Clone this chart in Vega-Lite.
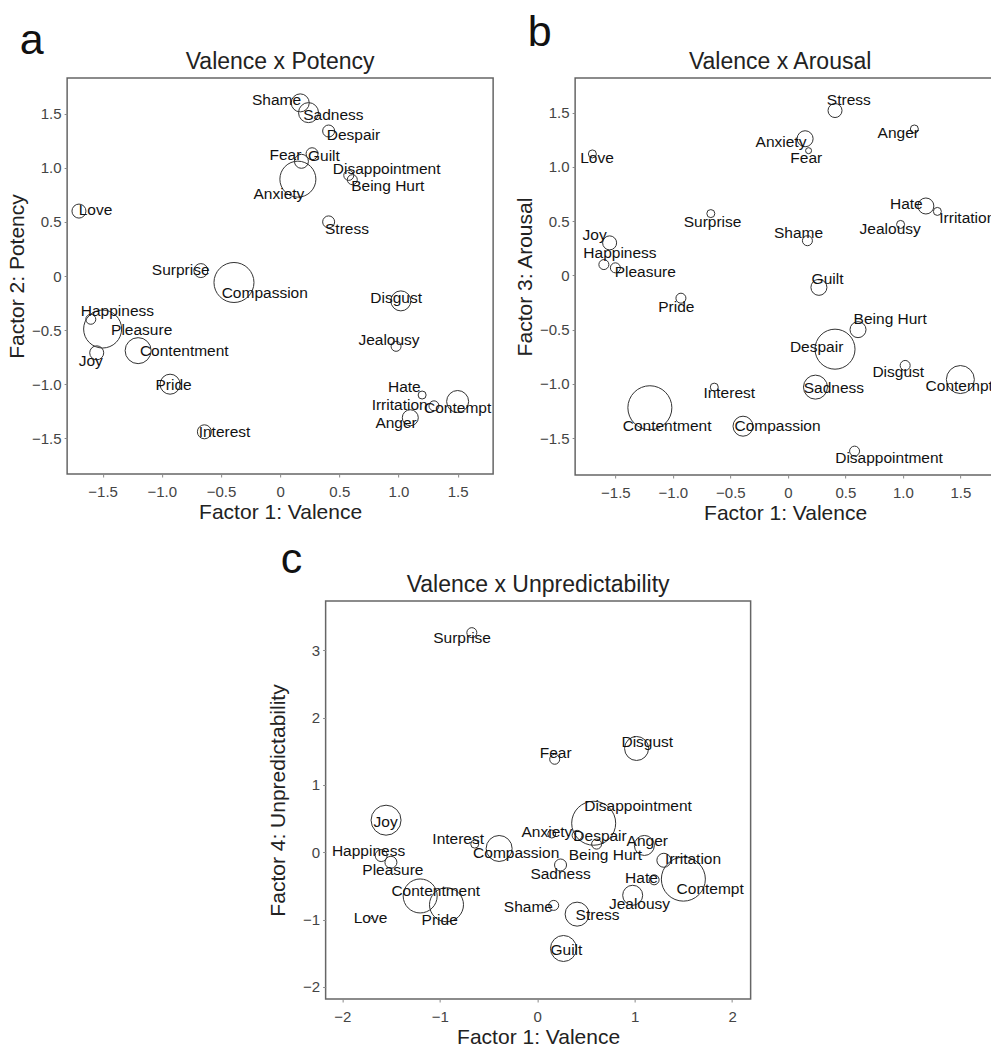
{
  "$schema": "https://vega.github.io/schema/vega-lite/v6.json",
  "background": "white",
  "padding": {"top": 12, "left": 5, "right": 5, "bottom": 5},
  "datasets": {
    "emo": [
      {"emotion": "Love", "valence": -1.7, "potency": 0.60, "arousal": 1.12, "unpred": -0.97, "wa": 0.35, "wb": 0.2, "wc": 0.05, "lxa": -1.56, "lya": 0.61, "lxb": -1.66, "lyb": 1.08, "lxc": -1.71, "lyc": -0.97},
      {"emotion": "Joy", "valence": -1.55, "potency": -0.71, "arousal": 0.30, "unpred": 0.475, "wa": 0.35, "wb": 0.35, "wc": 0.75, "lxa": -1.60, "lya": -0.79, "lxb": -1.68, "lyb": 0.37, "lxc": -1.555, "lyc": 0.45},
      {"emotion": "Happiness", "valence": -1.6, "potency": -0.40, "arousal": 0.10, "unpred": -0.05, "wa": 0.25, "wb": 0.25, "wc": 0.3, "lxa": -1.375, "lya": -0.32, "lxb": -1.46, "lyb": 0.21, "lxc": -1.73, "lyc": 0.02},
      {"emotion": "Pleasure", "valence": -1.5, "potency": -0.49, "arousal": 0.07, "unpred": -0.15, "wa": 0.95, "wb": 0.25, "wc": 0.3, "lxa": -1.17, "lya": -0.50, "lxb": -1.24, "lyb": 0.03, "lxc": -1.48, "lyc": -0.26},
      {"emotion": "Contentment", "valence": -1.2, "potency": -0.69, "arousal": -1.22, "unpred": -0.65, "wa": 0.65, "wb": 1.1, "wc": 0.85, "lxa": -0.81, "lya": -0.69, "lxb": -1.05, "lyb": -1.39, "lxc": -1.04, "lyc": -0.575},
      {"emotion": "Pride", "valence": -0.93, "potency": -1.0, "arousal": -0.21, "unpred": -0.78, "wa": 0.5, "wb": 0.25, "wc": 0.85, "lxa": -0.90, "lya": -1.01, "lxb": -0.97, "lyb": -0.295, "lxc": -1.0, "lyc": -1.01},
      {"emotion": "Interest", "valence": -0.64, "potency": -1.44, "arousal": -1.03, "unpred": 0.12, "wa": 0.35, "wb": 0.2, "wc": 0.2, "lxa": -0.47, "lya": -1.44, "lxb": -0.51, "lyb": -1.08, "lxc": -0.81, "lyc": 0.19},
      {"emotion": "Surprise", "valence": -0.67, "potency": 0.05, "arousal": 0.57, "unpred": 3.26, "wa": 0.35, "wb": 0.2, "wc": 0.25, "lxa": -0.84, "lya": 0.06, "lxb": -0.655, "lyb": 0.49, "lxc": -0.77, "lyc": 3.18},
      {"emotion": "Compassion", "valence": -0.39, "potency": -0.06, "arousal": -1.39, "unpred": 0.055, "wa": 1.0, "wb": 0.5, "wc": 0.65, "lxa": -0.13, "lya": -0.16, "lxb": -0.09, "lyb": -1.385, "lxc": -0.215, "lyc": -0.01},
      {"emotion": "Shame", "valence": 0.17, "potency": 1.60, "arousal": 0.32, "unpred": -0.79, "wa": 0.45, "wb": 0.25, "wc": 0.25, "lxa": -0.03, "lya": 1.63, "lxb": 0.093, "lyb": 0.39, "lxc": -0.09, "lyc": -0.82},
      {"emotion": "Sadness", "valence": 0.24, "potency": 1.51, "arousal": -1.03, "unpred": -0.19, "wa": 0.5, "wb": 0.6, "wc": 0.3, "lxa": 0.45, "lya": 1.49, "lxb": 0.40, "lyb": -1.04, "lxc": 0.24, "lyc": -0.32},
      {"emotion": "Despair", "valence": 0.41, "potency": 1.34, "arousal": -0.68, "unpred": 0.25, "wa": 0.3, "wb": 1.0, "wc": 0.25, "lxa": 0.62, "lya": 1.30, "lxb": 0.25, "lyb": -0.66, "lxc": 0.645, "lyc": 0.24},
      {"emotion": "Fear", "valence": 0.18, "potency": 1.06, "arousal": 1.15, "unpred": 1.38, "wa": 0.35, "wb": 0.15, "wc": 0.25, "lxa": 0.045, "lya": 1.12, "lxb": 0.16, "lyb": 1.08, "lxc": 0.19, "lyc": 1.48},
      {"emotion": "Guilt", "valence": 0.27, "potency": 1.13, "arousal": -0.11, "unpred": -1.43, "wa": 0.3, "wb": 0.4, "wc": 0.65, "lxa": 0.37, "lya": 1.11, "lxb": 0.345, "lyb": -0.03, "lxc": 0.30, "lyc": -1.45},
      {"emotion": "Disappointment", "valence": 0.58, "potency": 0.93, "arousal": -1.62, "unpred": 0.43, "wa": 0.25, "wb": 0.25, "wc": 1.1, "lxa": 0.90, "lya": 0.99, "lxb": 0.88, "lyb": -1.68, "lxc": 1.035, "lyc": 0.68},
      {"emotion": "Being Hurt", "valence": 0.61, "potency": 0.89, "arousal": -0.50, "unpred": 0.12, "wa": 0.25, "wb": 0.4, "wc": 0.25, "lxa": 0.91, "lya": 0.83, "lxb": 0.89, "lyb": -0.40, "lxc": 0.70, "lyc": -0.045},
      {"emotion": "Anxiety", "valence": 0.15, "potency": 0.895, "arousal": 1.26, "unpred": 0.27, "wa": 0.9, "wb": 0.4, "wc": 0.2, "lxa": -0.01, "lya": 0.76, "lxb": -0.06, "lyb": 1.23, "lxc": 0.10, "lyc": 0.30},
      {"emotion": "Stress", "valence": 0.41, "potency": 0.50, "arousal": 1.52, "unpred": -0.92, "wa": 0.3, "wb": 0.35, "wc": 0.6, "lxa": 0.565, "lya": 0.43, "lxb": 0.53, "lyb": 1.62, "lxc": 0.62, "lyc": -0.94},
      {"emotion": "Disgust", "valence": 1.02, "potency": -0.23, "arousal": -0.83, "unpred": 1.54, "wa": 0.5, "wb": 0.25, "wc": 0.6, "lxa": 0.98, "lya": -0.20, "lxb": 0.96, "lyb": -0.89, "lxc": 1.13, "lyc": 1.64},
      {"emotion": "Jealousy", "valence": 0.98, "potency": -0.65, "arousal": 0.47, "unpred": -0.64, "wa": 0.25, "wb": 0.2, "wc": 0.5, "lxa": 0.92, "lya": -0.59, "lxb": 0.89, "lyb": 0.43, "lxc": 1.05, "lyc": -0.77},
      {"emotion": "Hate", "valence": 1.2, "potency": -1.10, "arousal": 0.64, "unpred": -0.41, "wa": 0.2, "wb": 0.4, "wc": 0.25, "lxa": 1.05, "lya": -1.03, "lxb": 1.03, "lyb": 0.66, "lxc": 1.07, "lyc": -0.39},
      {"emotion": "Irritation", "valence": 1.3, "potency": -1.20, "arousal": 0.59, "unpred": -0.12, "wa": 0.25, "wb": 0.2, "wc": 0.35, "lxa": 1.01, "lya": -1.19, "lxb": 1.56, "lyb": 0.525, "lxc": 1.60, "lyc": -0.095},
      {"emotion": "Contempt", "valence": 1.5, "potency": -1.16, "arousal": -0.96, "unpred": -0.40, "wa": 0.55, "wb": 0.7, "wc": 1.1, "lxa": 1.50, "lya": -1.22, "lxb": 1.49, "lyb": -1.02, "lxc": 1.775, "lyc": -0.55},
      {"emotion": "Anger", "valence": 1.1, "potency": -1.31, "arousal": 1.35, "unpred": 0.10, "wa": 0.4, "wb": 0.2, "wc": 0.5, "lxa": 0.98, "lya": -1.36, "lxb": 0.96, "lyb": 1.31, "lxc": 1.13, "lyc": 0.17}
    ]
  },
  "vconcat": [
    {
      "hconcat": [
        {
          "title": {"text": "a", "anchor": "start", "fontSize": 43, "fontWeight": "normal", "color": "#111", "dx": 14, "offset": -13},
          "vconcat": [
            {
              "title": {"text": "Valence x Potency", "fontSize": 23, "fontWeight": "normal", "color": "#222", "offset": 4},
              "width": 426,
              "height": 396,
              "data": {"name": "emo"},
              "layer": [
                {
                  "mark": {"type": "point", "shape": "circle", "filled": false, "stroke": "#333", "strokeWidth": 1, "opacity": 1, "clip": true},
                  "encoding": {
                    "x": {"field": "valence", "type": "quantitative", "title": "Factor 1: Valence", "scale": {"domain": [-1.8, 1.8], "nice": false, "zero": false}, "axis": {"values": [-1.5, -1, -0.5, 0, 0.5, 1, 1.5], "labelExpr": "datum.value == 0 ? '0' : format(datum.value, '.1f')"}},
                    "y": {"field": "potency", "type": "quantitative", "title": "Factor 2: Potency", "scale": {"domain": [-1.83, 1.83], "nice": false, "zero": false}, "axis": {"values": [-1.5, -1, -0.5, 0, 0.5, 1, 1.5], "labelExpr": "datum.value == 0 ? '0' : format(datum.value, '.1f')"}},
                    "size": {"field": "wa", "type": "quantitative", "scale": {"type": "pow", "exponent": 2, "domain": [0, 1], "range": [0, 1600]}, "legend": null}
                  }
                },
                {
                  "mark": {"type": "text", "fontSize": 15.5, "color": "#111", "clip": true},
                  "encoding": {
                    "x": {"field": "lxa", "type": "quantitative", "title": "Factor 1: Valence"},
                    "y": {"field": "lya", "type": "quantitative", "title": "Factor 2: Potency"},
                    "text": {"field": "emotion"}
                  }
                }
              ]
            }
          ]
        },
        {
          "title": {"text": "b", "anchor": "start", "fontSize": 43, "fontWeight": "normal", "color": "#111", "dx": 14, "dy": -8, "offset": -13},
          "vconcat": [
            {
              "title": {"text": "Valence x Arousal", "fontSize": 23, "fontWeight": "normal", "color": "#222", "offset": 4, "dx": -12},
              "width": 434,
              "height": 397,
              "data": {"name": "emo"},
              "layer": [
                {
                  "mark": {"type": "point", "shape": "circle", "filled": false, "stroke": "#333", "strokeWidth": 1, "opacity": 1, "clip": true},
                  "encoding": {
                    "x": {"field": "valence", "type": "quantitative", "title": "Factor 1: Valence", "scale": {"domain": [-1.85, 1.924], "nice": false, "zero": false}, "axis": {"values": [-1.5, -1, -0.5, 0, 0.5, 1, 1.5], "labelExpr": "datum.value == 0 ? '0' : format(datum.value, '.1f')", "titleX": 210, "titleAnchor": "middle"}},
                    "y": {"field": "arousal", "type": "quantitative", "title": "Factor 3: Arousal", "scale": {"domain": [-1.84, 1.82], "nice": false, "zero": false}, "axis": {"values": [-1.5, -1, -0.5, 0, 0.5, 1, 1.5], "labelExpr": "datum.value == 0 ? '0' : format(datum.value, '.1f')"}},
                    "size": {"field": "wb", "type": "quantitative", "scale": {"type": "pow", "exponent": 2, "domain": [0, 1], "range": [0, 1600]}, "legend": null}
                  }
                },
                {
                  "mark": {"type": "text", "fontSize": 15.5, "color": "#111", "clip": true},
                  "encoding": {
                    "x": {"field": "lxb", "type": "quantitative", "title": "Factor 1: Valence"},
                    "y": {"field": "lyb", "type": "quantitative", "title": "Factor 3: Arousal"},
                    "text": {"field": "emotion"}
                  }
                }
              ]
            }
          ]
        }
      ],
      "spacing": 19,
      "resolve": {"scale": {"x": "independent", "y": "independent", "size": "independent"}}
    },
    {
      "title": {"text": "c", "anchor": "start", "fontSize": 43, "fontWeight": "normal", "color": "#111", "dx": 14, "offset": -9},
      "vconcat": [
        {
          "title": {"text": "Valence x Unpredictability", "fontSize": 23, "fontWeight": "normal", "color": "#222", "offset": 4},
          "width": 425,
          "height": 398,
          "data": {"name": "emo"},
          "layer": [
            {
              "mark": {"type": "point", "shape": "circle", "filled": false, "stroke": "#333", "strokeWidth": 1, "opacity": 1, "clip": true},
              "encoding": {
                "x": {"field": "valence", "type": "quantitative", "title": "Factor 1: Valence", "scale": {"domain": [-2.17, 2.19], "nice": false, "zero": false}, "axis": {"values": [-2, -1, 0, 1, 2], "format": "d"}},
                "y": {"field": "unpred", "type": "quantitative", "title": "Factor 4: Unpredictability", "scale": {"domain": [-2.18, 3.73], "nice": false, "zero": false}, "axis": {"values": [-2, -1, 0, 1, 2, 3], "format": "d", "titlePadding": 14}},
                "size": {"field": "wc", "type": "quantitative", "scale": {"type": "pow", "exponent": 2, "domain": [0, 1], "range": [0, 1600]}, "legend": null}
              }
            },
            {
              "mark": {"type": "text", "fontSize": 15.5, "color": "#111", "clip": true},
              "encoding": {
                "x": {"field": "lxc", "type": "quantitative", "title": "Factor 1: Valence"},
                "y": {"field": "lyc", "type": "quantitative", "title": "Factor 4: Unpredictability"},
                "text": {"field": "emotion"}
              }
            }
          ]
        }
      ]
    }
  ],
  "spacing": 15,
  "center": true,
  "resolve": {"scale": {"x": "independent", "y": "independent", "size": "independent"}},
  "config": {
    "font": "Liberation Sans",
    "view": {"stroke": "#666", "strokeWidth": 1.5},
    "axis": {"domain": false, "grid": false, "ticks": true, "tickSize": 3, "tickColor": "#888", "labelFontSize": 15, "labelColor": "#444", "labelPadding": 4, "titleFontSize": 21, "titleFontWeight": "normal", "titleColor": "#222", "titlePadding": 4},
    "axisX": {"labelPadding": 7, "titlePadding": 2},
    "axisY": {"labelPadding": 3}
  }
}
